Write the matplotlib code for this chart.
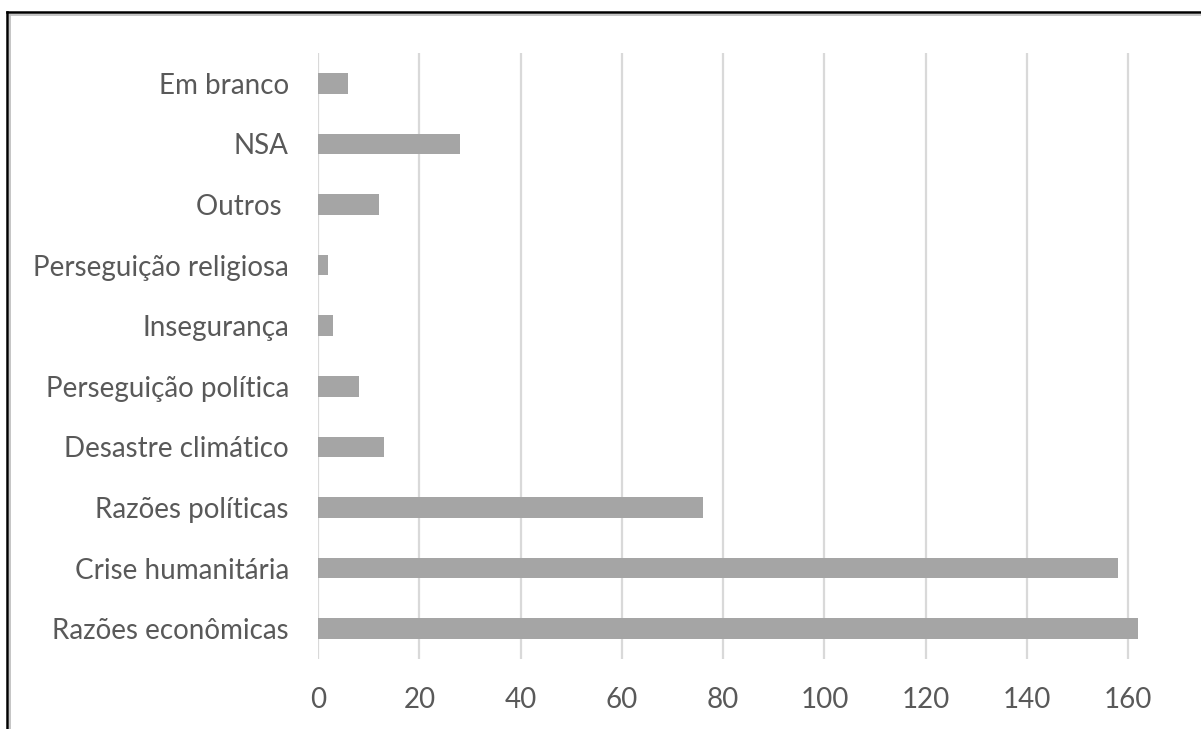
import matplotlib.pyplot as plt
from matplotlib.lines import Line2D

# Motivos declarados, de baixo para cima no eixo
categorias = ["Razões econômicas", "Crise humanitária", "Razões políticas",
              "Desastre climático", "Perseguição política", "Insegurança",
              "Perseguição religiosa", "Outros ", "NSA", "Em branco"]
valores = [162, 158, 76, 13, 8, 3, 2, 12, 28, 6]
ticks_x = [0, 20, 40, 60, 80, 100, 120, 140, 160]

plt.rcParams['font.family'] = ['Lato', 'DejaVu Sans']
cor_texto = "#595959"

fig = plt.figure(figsize=(12.01, 7.29), dpi=100)
ax = fig.add_axes([0.2648, 0.096, 0.6958, 0.8313])

pos = range(len(categorias))
ax.barh(pos, valores, height=0.34, color="#A5A5A5", zorder=3)

ax.set_xlim(0, 165)
ax.set_ylim(-0.5, len(categorias) - 0.5)
ax.set_xticks(ticks_x)
ax.set_xticklabels([str(t) for t in ticks_x])
ax.set_yticks(list(pos))
ax.set_yticklabels(categorias)

ax.grid(axis="x", color="#D9D9D9", linewidth=1.6, zorder=0)
for s in ax.spines.values():
    s.set_visible(False)
ax.tick_params(axis="both", length=0, labelsize=20, labelcolor=cor_texto)
ax.tick_params(axis="x", pad=20)
ax.tick_params(axis="y", pad=21)

# moldura da figura (topo e lado esquerdo)
W, H = 1201, 729
fig.add_artist(Line2D([7 / W, 7 / W], [0, 1 - 11.5 / H], color="black", lw=1.8))
fig.add_artist(Line2D([7 / W, 1], [1 - 11.5 / H, 1 - 11.5 / H], color="black", lw=1.8))
fig.add_artist(Line2D([10 / W, 10 / W], [0, 1 - 15 / H], color="#BBBBBB", lw=1.2))
fig.add_artist(Line2D([10 / W, 1], [1 - 15 / H, 1 - 15 / H], color="#BBBBBB", lw=1.2))

fig.savefig("out.png", dpi=100)
